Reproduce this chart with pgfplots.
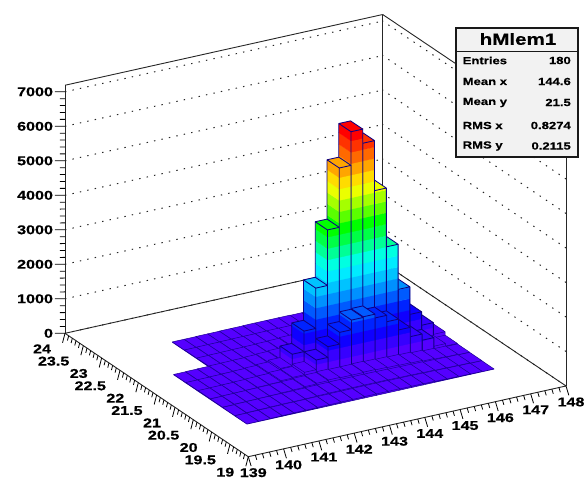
\documentclass[border=0pt]{standalone}
\usepackage{pgfplots}
\pgfplotsset{compat=1.18}
\usepackage{pgfplotstable}
\usepackage{fontspec}
\setmainfont{Liberation Sans}[FakeStretch=1.27,BoldFeatures={FakeBold=0.5}]
\definecolor{c0}{RGB}{85,0,255}
\definecolor{c1}{RGB}{55,0,255}
\definecolor{c2}{RGB}{15,0,255}
\definecolor{c3}{RGB}{0,35,255}
\definecolor{c4}{RGB}{0,90,255}
\definecolor{c5}{RGB}{0,145,255}
\definecolor{c6}{RGB}{0,195,255}
\definecolor{c7}{RGB}{0,235,255}
\definecolor{c8}{RGB}{0,255,225}
\definecolor{c9}{RGB}{0,255,150}
\definecolor{c10}{RGB}{0,255,70}
\definecolor{c11}{RGB}{0,255,0}
\definecolor{c12}{RGB}{90,255,0}
\definecolor{c13}{RGB}{165,255,0}
\definecolor{c14}{RGB}{235,255,0}
\definecolor{c15}{RGB}{255,220,0}
\definecolor{c16}{RGB}{255,165,0}
\definecolor{c17}{RGB}{255,105,0}
\definecolor{c18}{RGB}{255,50,0}
\definecolor{c19}{RGB}{255,0,0}
\definecolor{barline}{RGB}{15,0,130}
\definecolor{floorline}{RGB}{30,0,150}
% bin contents: rows y = 20, 20.33, ... ; columns x = 140, 140.33, ... (-1: no bin)
\pgfplotstableread[header=false]{
5 10 15 20 25 25 30 30 35 35 40 40 40 35 35 30 25 20 15 10 5
10 20 25 30 35 35 40 50 55 60 60 60 60 55 50 45 40 30 25 20 10
15 25 30 35 40 50 60 80 100 120 110 110 120 110 100 90 80 60 40 30 15
20 25 30 40 50 60 90 110 180 460 770 1110 1390 1410 1300 1115 800 530 350 100 30
15 20 25 30 40 55 80 130 465 1060 2230 3840 5560 6535 6125 4675 2970 1660 860 470 130
10 15 20 30 35 40 55 70 90 130 200 400 600 650 600 450 300 200 120 80 30
-1 -1 -1 20 25 30 35 40 50 60 80 90 100 100 90 70 60 40 30 25 15
-1 -1 -1 15 20 20 25 30 30 35 40 40 40 40 35 30 25 20 15 15 10
-1 -1 -1 10 10 15 15 20 20 25 25 25 25 20 20 20 15 15 10 10 5
}\bins
\newcommand\drawbar[2]{%
  \pgfplotstablegetelem{#2}{[index]#1}\of\bins
  \pgfmathsetmacro\hh{\pgfplotsretval}%
  \ifdim\hh pt<0pt\else
    \pgfmathsetmacro\xa{140+#1/3}\pgfmathsetmacro\xb{140+(#1+1)/3}%
    \pgfmathsetmacro\ya{20+#2/3}\pgfmathsetmacro\yb{20+(#2+1)/3}%
    \pgfmathtruncatemacro\kk{min(\hh/330,19)}%
    \edef\outl{(\xa,\ya,0) (\xa,\yb,0) (\xa,\yb,\hh) (\xb,\yb,\hh) (\xb,\ya,\hh) (\xb,\ya,0) (\xa,\ya,0) (\xa,\ya,\hh) (\xa,\yb,\hh) (\xa,\ya,\hh) (\xb,\ya,\hh)}%
    \ifnum\kk=0
      \edef\tmp{\noexpand\addplot3[fill=c0,draw=floorline,line width=.5pt,line join=round,forget plot] coordinates {\outl};}\tmp
    \else
      \foreach \b in {0,...,\kk}{%
        \pgfmathsetmacro\zlo{\b*330}\pgfmathsetmacro\zhi{min((\b+1)*330,\hh)}%
        \edef\tmp{\noexpand\addplot3[fill=c\b,draw=c\b,line width=.3pt,forget plot] coordinates {(\xa,\yb,\zlo) (\xa,\ya,\zlo) (\xb,\ya,\zlo) (\xb,\ya,\zhi) (\xa,\ya,\zhi) (\xa,\yb,\zhi)};}\tmp
      }%
      \edef\tmp{\noexpand\addplot3[fill=c\kk,draw=none,forget plot] coordinates {(\xa,\yb,\hh) (\xa,\ya,\hh) (\xb,\ya,\hh) (\xb,\yb,\hh)};}\tmp
      \edef\tmp{\noexpand\addplot3[draw=barline,line width=.85pt,line join=round,forget plot] coordinates {\outl};}\tmp
    \fi
  \fi
}
\begin{document}
\begin{tikzpicture}
\begin{axis}[
  x={(35.3pt,7.86pt)}, y={(-36.66pt,24.68pt)}, z={(0pt,0.0345pt)},
  xmin=139, xmax=148, ymin=19, ymax=24, zmin=0, zmax=7190,
  clip=false,
  axis lines=box, 3d box=background,
  axis line style={line width=.9pt, black!85},
  xtick={139,...,148},
  ytick={19,19.5,...,24},
  ztick={0,1000,...,7000},
  yticklabels={19,19.5,20,20.5,21,21.5,22,22.5,23,23.5,24},
  xticklabels={139,140,141,142,143,144,145,146,147,148},
  scaled z ticks=false,
  /pgf/number format/assume math mode=true,
  /pgf/number format/set thousands separator={},
  tick style={draw=none},
  major tick length=0pt,
  zmajorgrids,
  major grid style={black!85, line width=1pt, dash pattern=on 1.4pt off 6.2pt},
  ticklabel style={font=\fontsize{12.7}{13}\selectfont\bfseries, inner sep=0pt, outer sep=0pt},
  xticklabel style={anchor=center, xshift=5pt, yshift=-16pt},
  yticklabel style={anchor=east, xshift=-14pt, yshift=-15.5pt},
  zticklabel style={anchor=east, xshift=-12pt},
]
\coordinate (O) at (axis cs:139,19,0);
% axis tick marks, drawn as in the reference
\def\xt{}\pgfplotsforeachungrouped \k in {0,1,...,45}{%
  \pgfmathsetmacro\p{139+\k/5}%
  \pgfmathtruncatemacro\mj{mod(\k,5)==0}%
  \ifnum\mj=1 \pgfmathsetmacro\q{\p+0.08}\def\zz{-290}\else \pgfmathsetmacro\q{\p+0.04}\def\zz{-145}\fi
  \edef\xt{\xt (\p,19,0) (\q,19,\zz) (\p,19,nan) }}
\addplot3[black,line width=.8pt,unbounded coords=jump,forget plot] coordinates {\xt};
\def\yt{}\pgfplotsforeachungrouped \k in {0,1,...,50}{%
  \pgfmathsetmacro\p{19+\k/10}%
  \pgfmathtruncatemacro\mj{mod(\k,5)==0}%
  \ifnum\mj=1 \def\q{138.93}\def\zz{-260}\else \def\q{138.965}\def\zz{-130}\fi
  \edef\yt{\yt (139,\p,0) (\q,\p,\zz) (139,\p,nan) }}
\addplot3[black,line width=.8pt,unbounded coords=jump,forget plot] coordinates {\yt};
\def\zt{}\pgfplotsforeachungrouped \k in {0,1,...,35}{%
  \pgfmathsetmacro\p{\k*200}%
  \pgfmathtruncatemacro\mj{mod(\k,5)==0}%
  \ifnum\mj=1 \def\q{138.787}\def\qq{24.068}\else \def\q{138.893}\def\qq{24.034}\fi
  \edef\zt{\zt (139,24,\p) (\q,\qq,\p) (139,24,nan) }}
\addplot3[black,line width=.8pt,unbounded coords=jump,forget plot] coordinates {\zt};
% lego bars, back to front
\pgfplotsforeachungrouped \ii in {20,19,18,17,16,15,14,13,12,11,10,9,8,7,6,5,4,3,2,1,0}{%
  \pgfplotsforeachungrouped \jj in {8,7,6,5,4,3,2,1,0}{%
    \drawbar{\ii}{\jj}%
  }%
}
\end{axis}
\pgfresetboundingbox
\begin{scope}[shift={(O)},x=1pt,y=-1pt,shift={(-248.3,-456.7)}]
\useasboundingbox (0,0) rectangle (584,479);
\draw[black!90,line width=1.1pt,fill=black!5] (456,28) rectangle (578,157);
\draw[black!90,line width=.8pt] (456,51) -- (578,51);
\node[font=\fontsize{16.2}{17}\selectfont\bfseries,inner sep=0pt] at (518,39) {hMlem1};
\def\sz{\fontsize{10.3}{11}\selectfont\bfseries}
\node[font=\sz,anchor=west,inner sep=0pt] at (462.5,60.5) {Entries};
\node[font=\sz,anchor=east,inner sep=0pt] at (571,60.5) {180};
\node[font=\sz,anchor=west,inner sep=0pt] at (462.5,81.5) {Mean x};
\node[font=\sz,anchor=east,inner sep=0pt] at (571,81.5) {144.6};
\node[font=\sz,anchor=west,inner sep=0pt] at (462.5,102.5) {Mean y};
\node[font=\sz,anchor=east,inner sep=0pt] at (571,102.5) {21.5};
\node[font=\sz,anchor=west,inner sep=0pt] at (462.5,125.5) {RMS x};
\node[font=\sz,anchor=east,inner sep=0pt] at (571,125.5) {0.8274};
\node[font=\sz,anchor=west,inner sep=0pt] at (462.5,146) {RMS y};
\node[font=\sz,anchor=east,inner sep=0pt] at (571,146) {0.2115};
\end{scope}
\end{tikzpicture}
\end{document}
